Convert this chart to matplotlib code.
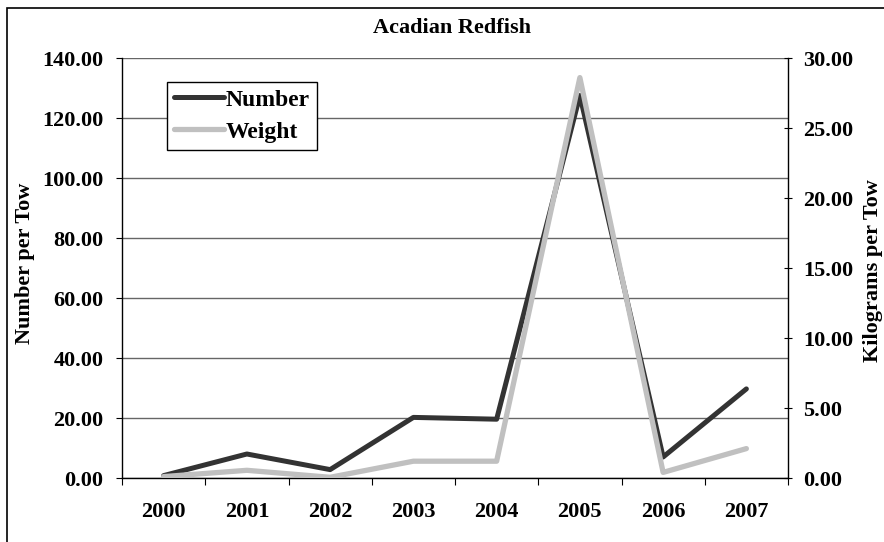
"""
Acadian Redfish - number and weight per tow
"""
import matplotlib
matplotlib.use('Agg')
import matplotlib.pyplot as plt
import numpy as np
from matplotlib.patches import Rectangle

# Datos
years = ['2000', '2001', '2002', '2003', '2004', '2005', '2006', '2007']
number_per_tow = [0.8, 8.0, 2.8, 20.2, 19.6, 127.5, 7.0, 29.7]
kg_per_tow = [0.1, 0.55, 0.05, 1.2, 1.2, 28.6, 0.4, 2.1]

plt.rcParams['font.family'] = ['Liberation Serif', 'DejaVu Serif']
plt.rcParams['font.weight'] = 'bold'
FS = 16

W, H = 884, 542
fig = plt.figure(figsize=(W / 100, H / 100), dpi=100)
ax1 = fig.add_axes([122 / W, 64 / H, 666 / W, 420 / H])
ax2 = ax1.twinx()

x = np.arange(len(years))

ax1.plot(x, number_per_tow, color='#333333', linewidth=3.6,
         solid_capstyle='round', solid_joinstyle='round', label='Number')
ax2.plot(x, kg_per_tow, color='#c0c0c0', linewidth=3.8,
         solid_capstyle='round', solid_joinstyle='round', label='Weight')

# Ejes
ax1.set_xlim(-0.5, len(years) - 0.5)
ax1.set_ylim(0, 140)
ax2.set_ylim(0, 30)
ax1.set_yticks(np.arange(0, 141, 20))
ax1.set_yticklabels([f'{v:.2f}' for v in np.arange(0, 141, 20)], fontsize=FS, fontweight='bold')
ax2.set_yticks(np.arange(0, 31, 5))
ax2.set_yticklabels([f'{v:.2f}' for v in np.arange(0, 31, 5)], fontsize=FS, fontweight='bold')

ax1.set_xticks(np.arange(-0.5, len(years), 1))
ax1.set_xticklabels([])
ax1.set_xticks(x, minor=True)
ax1.set_xticklabels(years, minor=True, fontsize=FS, fontweight='bold')

ax1.tick_params(axis='y', direction='out', length=4.5, width=0.8, pad=9)
ax1.tick_params(axis='x', which='major', direction='out', length=5, width=0.8)
ax1.tick_params(axis='x', which='minor', length=0, pad=17)
ax2.tick_params(axis='y', direction='inout', length=6, width=0.8, pad=8)

ax1.grid(True, axis='y', color='#666666', linewidth=1)
ax1.set_axisbelow(True)

for ax in (ax1, ax2):
    ax.spines['top'].set_visible(False)
ax2.spines['left'].set_visible(False)
ax2.spines['bottom'].set_visible(False)
ax1.spines['right'].set_visible(False)
for s in ('left', 'bottom'):
    ax1.spines[s].set_color('black')
    ax1.spines[s].set_linewidth(1)
ax2.spines['right'].set_linewidth(1)

# Textos
fig.text(452 / W, 1 - 28 / H, 'Acadian Redfish', ha='center', va='center',
         fontsize=FS, fontweight='bold')
fig.text(25 / W, 1 - 263 / H, 'Number per Tow', ha='center', va='center',
         rotation=90, fontsize=FS, fontweight='bold')
fig.text(873 / W, 1 - 271 / H, 'Kilograms per Tow', ha='center', va='center',
         rotation=90, fontsize=FS, fontweight='bold')

# Leyenda
h1, l1 = ax1.get_legend_handles_labels()
h2, l2 = ax2.get_legend_handles_labels()
leg = ax2.legend(h1 + h2, l1 + l2, loc='upper left',
                 bbox_to_anchor=(167 / W, 1 - 82 / H), bbox_transform=fig.transFigure,
                 fancybox=False, shadow=False, framealpha=1, edgecolor='black',
                 prop={'size': 17, 'weight': 'bold'}, handlelength=2.1,
                 handletextpad=0.1, labelspacing=0.45, borderpad=0.3,
                 borderaxespad=0)
leg.get_frame().set_linewidth(1)

# Marco de la figura
fig.patches.append(Rectangle((7 / W, -0.1), 1.2, 1.1 - 8 / H,
                             transform=fig.transFigure, fill=False,
                             edgecolor='black', linewidth=1.2))

plt.savefig('out.png', dpi=100)
plt.close()
